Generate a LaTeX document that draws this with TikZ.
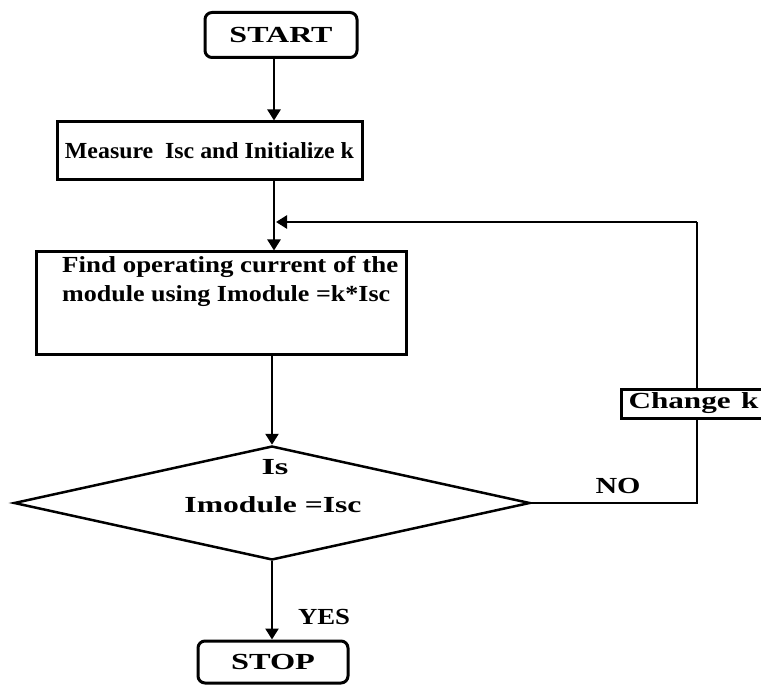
\documentclass[tikz,border=0pt]{standalone}
\usepackage{fontspec}
\setmainfont{Liberation Serif}
\usetikzlibrary{arrows.meta,shapes.geometric}
\newcommand{\fw}[2]{\resizebox{#1}{\height}{#2}}
\begin{document}
\begin{tikzpicture}[x=1pt,y=-1pt,
  font=\bfseries\fontsize{23}{30}\selectfont,
  box/.style={draw, line width=3pt, inner sep=0pt, fill=white},
  rbox/.style={box, rounded corners=7pt},
  conn/.style={line width=2.5pt, -{Triangle[width=13pt,length=11pt]}},
  plain/.style={line width=2.5pt},
  lbl/.style={inner sep=0pt}]
\useasboundingbox (0,0) rectangle (761,687);
\coordinate (spine) at (274,0);
\node[rbox, minimum width=152pt, minimum height=45pt] (start) at (281,35) {\fw{103pt}{START}};
\node[box, minimum width=305pt, minimum height=58pt] (measure) at (209.5,151) {\fw{289pt}{Measure\ \ Isc and Initialize k}};
\node[box, minimum width=370pt, minimum height=102pt] (find) at (221,303) {};
\node[lbl, anchor=west] (findtxt1) at (62,267) {\fw{336pt}{Find operating current of the}};
\node[lbl, anchor=west] (findtxt2) at (62,296) {\fw{328pt}{module using Imodule =k*Isc}};
\node[diamond, draw, line width=2.5pt, inner sep=0pt, minimum width=516pt, minimum height=114pt] (dec) at (272,503) {};
\node[lbl] (is) at (275,467) {\fw{27pt}{Is}};
\node[lbl] (eq) at (273,505) {\fw{177pt}{Imodule =Isc}};
\node[rbox, minimum width=150pt, minimum height=42pt] (stop) at (273,662) {\fw{84pt}{STOP}};
\coordinate (loopin) at (276,222);
\coordinate (corner) at (697,503);
% connectors
\draw[conn] (start.south -| spine) -- (measure.north -| spine);
\draw[conn] (measure.south -| spine) -- (find.north -| spine);
\draw[conn] (find.south -| dec.north) -- (dec.north);
\draw[conn] (dec.south) -- (stop.north -| dec.south);
\draw[plain] (dec.east) -- (corner) -- (corner |- loopin);
\draw[conn] (corner |- loopin) -- (loopin);
\node[box, anchor=west, minimum height=29pt, text width=146pt, align=left, inner xsep=7pt] (chg) at (620,403.5) {\fw{130pt}{Change k}};
\node[lbl] (no) at (618,486) {\fw{45pt}{NO}};
\node[lbl] (yes) at (324,617) {\fw{52pt}{YES}};
\end{tikzpicture}
\end{document}
